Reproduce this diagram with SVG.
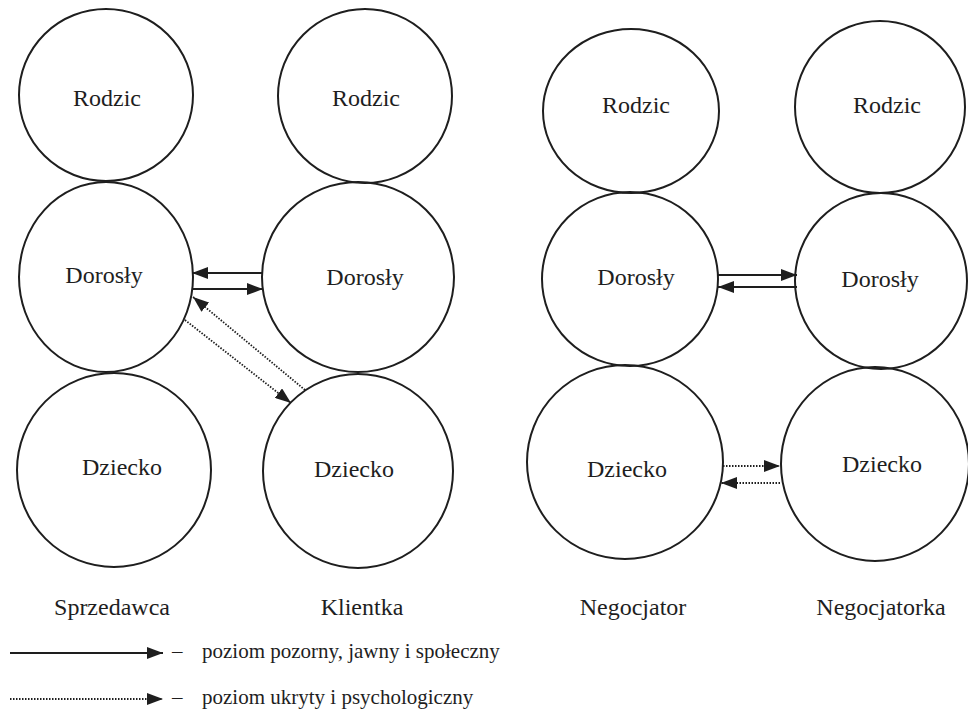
<svg xmlns="http://www.w3.org/2000/svg" width="968" height="710" viewBox="0 0 968 710" font-family="'Liberation Serif', Tinos, 'DejaVu Serif', 'Times New Roman', serif">
<style>
.node ellipse{fill:none;stroke:#1e1e1e;stroke-width:2}
text{font-family:'Liberation Serif',Tinos,'DejaVu Serif','Times New Roman',serif;fill:#1e1e1e}
.lbl{font-size:24px;text-anchor:middle}
.leg{font-size:21px}
.solid{stroke:#1e1e1e;stroke-width:2;fill:none}
.dot{stroke:#1e1e1e;stroke-width:1.8;fill:none;stroke-dasharray:1.5 1.5}
</style>
<defs>
<marker id="ah" viewBox="0 0 16 12" refX="16" refY="6" markerWidth="16" markerHeight="12" markerUnits="userSpaceOnUse" orient="auto">
<path d="M0,0 L16,6 L0,12 z" fill="#1e1e1e"/>
</marker>
</defs>
<rect width="968" height="710" fill="#ffffff"/>
<g id="sprzedawca-rodzic" class="node"><ellipse cx="106" cy="95" rx="87" ry="86"/><text class="lbl" x="107" y="106" font-family="Liberation Serif">Rodzic</text></g>
<g id="sprzedawca-dorosly" class="node"><ellipse cx="106" cy="277" rx="87" ry="95"/><text class="lbl" x="104" y="283">Dorosły</text></g>
<g id="sprzedawca-dziecko" class="node"><ellipse cx="114" cy="470" rx="97" ry="97"/><text class="lbl" x="122" y="475">Dziecko</text></g>
<g id="klientka-rodzic" class="node"><ellipse cx="365" cy="96" rx="87" ry="87"/><text class="lbl" x="366" y="106">Rodzic</text></g>
<g id="klientka-dorosly" class="node"><ellipse cx="358" cy="277" rx="96" ry="95"/><text class="lbl" x="365" y="285">Dorosły</text></g>
<g id="klientka-dziecko" class="node"><ellipse cx="358" cy="471" rx="95" ry="97"/><text class="lbl" x="354" y="477">Dziecko</text></g>
<g id="negocjator-rodzic" class="node"><ellipse cx="631" cy="111" rx="88" ry="82"/><text class="lbl" x="636" y="113">Rodzic</text></g>
<g id="negocjator-dorosly" class="node"><ellipse cx="630" cy="279" rx="88" ry="87"/><text class="lbl" x="636" y="285">Dorosły</text></g>
<g id="negocjator-dziecko" class="node"><ellipse cx="625" cy="462" rx="98" ry="97"/><text class="lbl" x="627" y="477">Dziecko</text></g>
<g id="negocjatorka-rodzic" class="node"><ellipse cx="880" cy="107" rx="85" ry="86"/><text class="lbl" x="887" y="113">Rodzic</text></g>
<g id="negocjatorka-dorosly" class="node"><ellipse cx="881" cy="281" rx="86" ry="88"/><text class="lbl" x="880" y="287">Dorosły</text></g>
<g id="negocjatorka-dziecko" class="node"><ellipse cx="875" cy="464" rx="94" ry="97"/><text class="lbl" x="882" y="472">Dziecko</text></g>
<g id="connectors">
<line class="solid" x1="262" y1="273" x2="192" y2="273" marker-end="url(#ah)"/>
<line class="solid" x1="193" y1="289" x2="263" y2="289" marker-end="url(#ah)"/>
<line class="dot" x1="305" y1="390" x2="193" y2="297" marker-end="url(#ah)"/>
<line class="dot" x1="185" y1="320" x2="291" y2="403" marker-end="url(#ah)"/>
<line class="solid" x1="717" y1="275" x2="797" y2="275" marker-end="url(#ah)"/>
<line class="solid" x1="797" y1="287" x2="718" y2="287" marker-end="url(#ah)"/>
<line class="dot" x1="723" y1="466" x2="780" y2="466" marker-end="url(#ah)"/>
<line class="dot" x1="780" y1="483" x2="721" y2="483" marker-end="url(#ah)"/>
</g>
<g id="labels">
<text class="lbl" x="112" y="615">Sprzedawca</text>
<text class="lbl" x="362" y="615">Klientka</text>
<text class="lbl" x="633" y="615">Negocjator</text>
<text class="lbl" x="881" y="615">Negocjatorka</text>
</g>
<g id="legend">
<line class="solid" x1="10" y1="653" x2="163" y2="653" marker-end="url(#ah)"/>
<text class="leg" x="172" y="658">–</text>
<text class="leg" x="202" y="658">poziom pozorny, jawny i społeczny</text>
<line class="dot" x1="10" y1="699" x2="163" y2="699" marker-end="url(#ah)"/>
<text class="leg" x="172" y="704">–</text>
<text class="leg" x="202" y="704">poziom ukryty i psychologiczny</text>
</g>
</svg>
